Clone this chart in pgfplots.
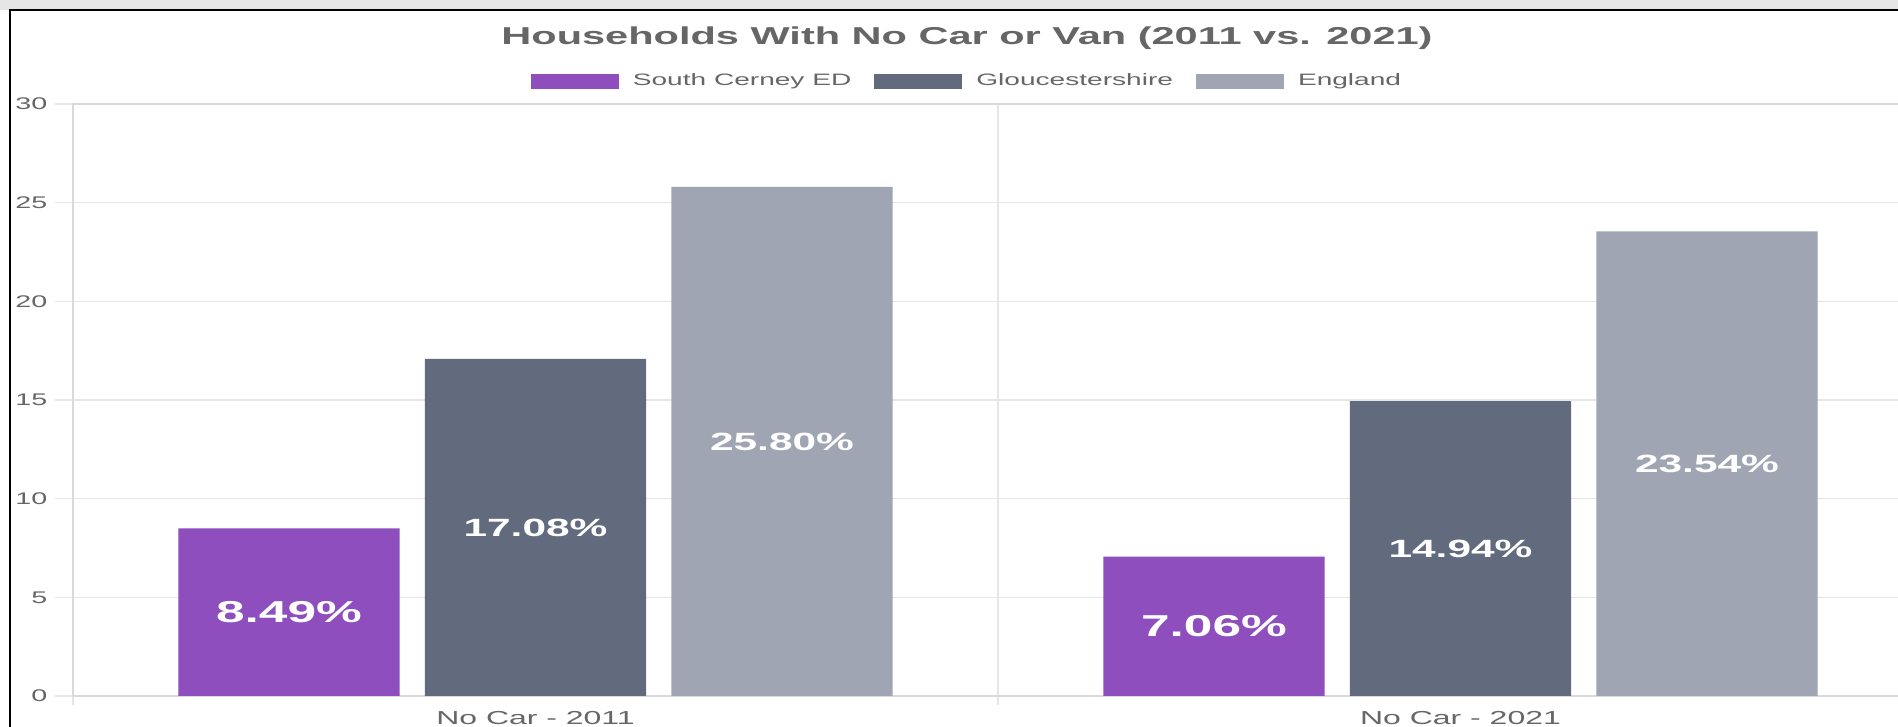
\documentclass[border=0pt]{standalone}
\usepackage{pgfplots}
\pgfplotsset{compat=1.18}
\usepackage{pgfplotstable}
\usepackage{fontspec}
\setmainfont{Liberation Sans}[FakeStretch=1.7]
\newfontfamily\wide{Liberation Sans}[FakeStretch=1.7]
\definecolor{cpurple}{HTML}{8E4EBE}
\definecolor{cdark}{HTML}{616B7D}
\definecolor{clight}{HTML}{9FA5B2}
\definecolor{cgrid}{HTML}{E6E6E6}
\definecolor{caxis}{HTML}{D9D9D9}
\definecolor{ctext}{HTML}{666666}
\definecolor{cband}{HTML}{E6E6E6}

\pgfplotstableread{
c v
0 8.49
1 7.06
}\south
\pgfplotstableread{
c v
0 17.08
1 14.94
}\glos
\pgfplotstableread{
c v
0 25.80
1 23.54
}\eng

\begin{document}
\begin{tikzpicture}[x=1cm,y=1cm]
\clip (0,0) rectangle (18.98,7.27);
\fill[white] (0,0) rectangle (18.98,7.27);
\fill[cband] (0,7.17) rectangle (18.98,7.27);
\begin{axis}[
  at={(0.73cm,0.31cm)}, anchor=south west,
  scale only axis, width=18.50cm, height=5.92cm,
  xmin=-0.5, xmax=1.5, ymin=0, ymax=30,
  ytick={0,5,...,30},
  xtick={0,1}, xticklabels={No Car - 2011, No Car - 2021},
  minor xtick={-0.5,0.5,1.5},
  ymajorgrids, xminorgrids,
  grid style={cgrid, line width=0.4pt},
  minor grid style={cgrid, line width=0.4pt},
  axis line style={caxis, line width=0.4pt},
  tick align=outside, tick pos=left,
  major tick length=0.18cm, minor tick length=0.09cm,
  tick style={cgrid, line width=0.4pt},
  major x tick style={draw=none},
  /pgf/number format/assume math mode=true,
  yticklabel style={font=\wide\fontsize{4.8}{5.5}\selectfont, text=ctext, anchor=east, inner sep=0pt, xshift=-0.07cm},
  xticklabel style={font=\wide\fontsize{5.35}{6}\selectfont, text=ctext, anchor=base, inner sep=0pt, yshift=-0.11cm},
  legend columns=3,
  legend style={draw=none, fill=none, at={(0.4827,1)}, anchor=center, yshift=0.22cm,
    font=\wide\fontsize{4.7}{5.5}\selectfont, text=ctext, inner sep=0pt,
    nodes={inner sep=0pt},
    /tikz/every odd column/.append style={column sep=0.14cm},
    /tikz/every even column/.append style={column sep=0.23cm}},
  myleg/.style={legend image code/.code={\fill (0cm,-0.075cm) rectangle (0.88cm,0.075cm);}},
  barlab/.style={draw=none, point meta=explicit,
    nodes near coords={\pgfmathprintnumber[fixed,fixed zerofill,precision=2,assume math mode=true]{\pgfplotspointmeta}\%},
    every node near coord/.append style={anchor=center, text=white, inner sep=0pt}},
]
\addplot[ybar, bar width=0.239, bar shift=0pt, fill=cpurple, draw=none, myleg]
  table[x expr=\thisrow{c}-0.2665, y=v]{\south};
\addlegendentry{South Cerney ED}
\addplot[ybar, bar width=0.239, bar shift=0pt, fill=cdark, draw=none, myleg]
  table[x expr=\thisrow{c}, y=v]{\glos};
\addlegendentry{Gloucestershire}
\addplot[ybar, bar width=0.239, bar shift=0pt, fill=clight, draw=none, myleg]
  table[x expr=\thisrow{c}+0.2665, y=v]{\eng};
\addlegendentry{England}
\addplot[barlab, every node near coord/.append style={font=\wide\bfseries\fontsize{8.6}{9}\selectfont}]
  table[x expr=\thisrow{c}-0.2665, y expr=\thisrow{v}/2, meta=v]{\south};
\addplot[barlab, every node near coord/.append style={font=\wide\bfseries\fontsize{7.1}{8}\selectfont}]
  table[x expr=\thisrow{c}, y expr=\thisrow{v}/2, meta=v]{\glos};
\addplot[barlab, every node near coord/.append style={font=\wide\bfseries\fontsize{7.1}{8}\selectfont}]
  table[x expr=\thisrow{c}+0.2665, y expr=\thisrow{v}/2, meta=v]{\eng};
\end{axis}
\node[anchor=base, font=\wide\bfseries\fontsize{6.95}{8}\selectfont, text=ctext] at (9.67,6.82) {Households With No Car or Van (2011 vs. 2021)};
\draw[black, line width=0.02cm] (0.103,0) -- (0.103,7.165) -- (18.98,7.165);
\end{tikzpicture}
\end{document}
